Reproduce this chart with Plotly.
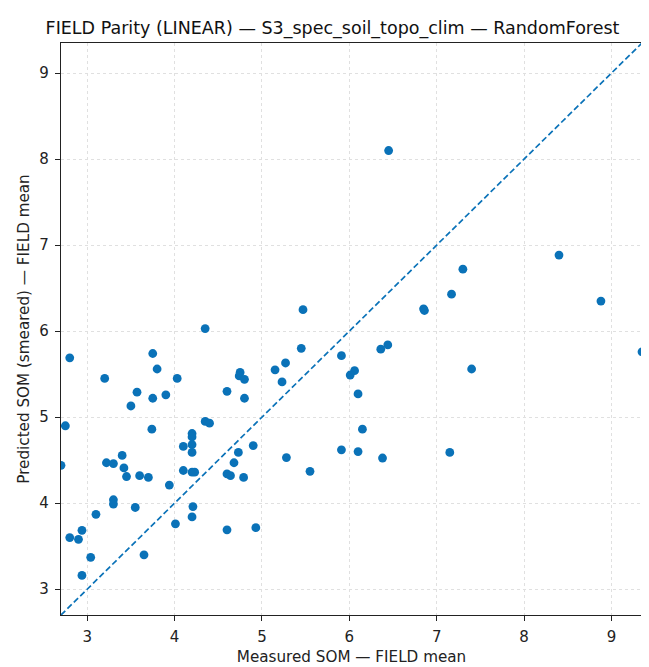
import plotly.graph_objects as go

measured = [
    2.80, 4.35, 3.75, 3.80, 3.20, 4.03, 3.57, 3.90, 3.75, 3.50,
    4.75, 4.74, 4.80, 4.60, 4.80, 2.75, 3.74, 4.35, 4.40, 4.20,
    4.20, 4.10, 4.20, 4.20, 4.90, 4.73, 3.40,
    2.70, 3.22, 3.30, 3.42, 3.45, 3.60, 3.70, 3.94, 4.10, 4.20,
    4.23, 4.60, 4.64, 4.68, 4.79, 3.30, 3.30, 3.10, 3.55, 4.01,
    4.21, 4.20, 4.60, 4.93, 2.94, 2.80, 2.90, 3.04, 3.65, 2.94,
    5.47, 6.85, 6.86, 5.45, 6.36, 6.44, 5.27, 5.15, 5.23, 5.91,
    6.06, 6.01, 6.10, 6.15, 5.91, 6.10, 5.28, 6.38, 5.55,
    6.45, 8.40, 7.30, 7.17, 8.88, 7.40, 7.15, 9.35,
]
predicted = [
    5.69, 6.03, 5.74, 5.56, 5.45, 5.45, 5.29, 5.26, 5.22, 5.13,
    5.52, 5.48, 5.44, 5.30, 5.22, 4.90, 4.86, 4.95, 4.93, 4.81,
    4.77, 4.66, 4.68, 4.59, 4.67, 4.59, 4.555,
    4.44, 4.47, 4.46, 4.41, 4.31, 4.32, 4.30, 4.21, 4.38, 4.36,
    4.36, 4.34, 4.32, 4.47, 4.30, 4.04, 3.99, 3.87, 3.95, 3.76,
    3.96, 3.84, 3.69, 3.715, 3.685, 3.60, 3.58, 3.37, 3.40, 3.16,
    6.25, 6.26, 6.24, 5.80, 5.79, 5.84, 5.63, 5.55, 5.41, 5.715,
    5.54, 5.49, 5.27, 4.86, 4.62, 4.60, 4.53, 4.525, 4.37,
    8.10, 6.885, 6.72, 6.43, 6.35, 5.56, 4.59, 5.76,
]

title_text = "FIELD Parity (LINEAR) — S3_spec_soil_topo_clim — RandomForest"
x_label = "Measured SOM — FIELD mean"
y_label = "Predicted SOM (smeared) — FIELD mean"
tick_vals = [3, 4, 5, 6, 7, 8, 9]

lo = min(min(measured), min(predicted))
hi = max(max(measured), max(predicted))

blue = "#0a72b8"
font_family = "DejaVu Sans, sans-serif"

fig = go.Figure()
fig.add_trace(go.Scatter(
    x=measured, y=predicted, mode="markers",
    marker=dict(size=8.8, color=blue, line=dict(width=0)),
    showlegend=False, cliponaxis=True,
))
fig.add_trace(go.Scatter(
    x=[lo, hi], y=[lo, hi], mode="lines",
    line=dict(color=blue, width=1.7, dash="6px,3px"),
    showlegend=False,
))

axis_common = dict(
    range=[lo, hi], tickvals=tick_vals, ticks="outside", ticklen=5,
    tickwidth=1, tickcolor="#222", showline=True, linecolor="#222",
    linewidth=1.2, mirror=True, showgrid=True, gridcolor="#e0e0e0",
    gridwidth=1, griddash="dot", zeroline=False, ticklabelstandoff=3,
    tickfont=dict(family=font_family, size=15, color="#222"),
)

fig.update_layout(
    width=649, height=667,
    margin=dict(l=53, r=15, t=35, b=50),
    paper_bgcolor="white", plot_bgcolor="white",
    title=dict(text=title_text, x=0.5, xanchor="center",
               xref="container", y=1 - 19.5 / 667, yanchor="middle",
               font=dict(family=font_family, size=17.5, color="#111")),
    xaxis=dict(**axis_common,
               title=dict(text=x_label, standoff=6,
                          font=dict(family=font_family, size=15.2, color="#222"))),
    yaxis=dict(**axis_common,
               title=dict(text=y_label, standoff=6,
                          font=dict(family=font_family, size=15.2, color="#222"))),
)

fig.write_html("out.html")
